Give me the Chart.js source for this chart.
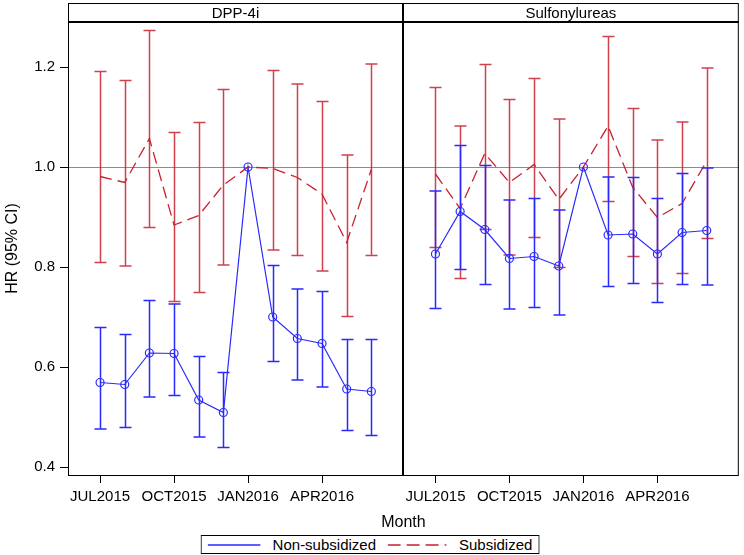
<!DOCTYPE html>
<html>
<head>
<meta charset="utf-8">
<script src="https://cdn.jsdelivr.net/npm/chart.js@4"></script>
<style>
html, body { margin: 0; padding: 0; background: #fff; }
#wrap { position: relative; width: 744px; height: 555px; }
#legend {
    position: absolute; left: 370px; top: 535px; height: 19px; transform: translateX(-50%);
    box-sizing: border-box; border: 1px solid #000; background: #fff;
    display: flex; align-items: center; padding: 0 6px; white-space: nowrap;
    font: 15px "Liberation Sans", Arial, sans-serif; color: #000;
}
#legend svg { display: block; margin-right: 12px; flex-shrink: 0; }
#legend span { margin-right: 12px; flex-shrink: 0; white-space: nowrap; }
#legend span:last-child { margin-right: 0; }
</style>
</head>
<body>
<div id="wrap">
    <canvas id="chart" width="744" height="555"></canvas>
    <div id="legend"></div>
</div>
<script>
// months on the x axis, one point per month
const months = ['JUL2015', 'AUG2015', 'SEP2015', 'OCT2015', 'NOV2015', 'DEC2015',
    'JAN2016', 'FEB2016', 'MAR2016', 'APR2016', 'MAY2016', 'JUN2016'];
const tickLabels = ['JUL2015', 'OCT2015', 'JAN2016', 'APR2016'];
const yTicks = [0.4, 0.6, 0.8, 1.0, 1.2];
const panels = ['DPP-4i', 'Sulfonylureas'];

// DPP-4i
const dppNonHR = [0.569, 0.565, 0.628, 0.627, 0.534, 0.509, 1.0, 0.700, 0.657, 0.647, 0.556, 0.551];
const dppNonLo = [0.476, 0.479, 0.540, 0.543, 0.460, 0.439, null, 0.611, 0.574, 0.560, 0.473, 0.463];
const dppNonHi = [0.679, 0.665, 0.733, 0.726, 0.621, 0.589, null, 0.803, 0.756, 0.751, 0.655, 0.655];
const dppSubHR = [0.981, 0.969, 1.057, 0.884, 0.903, 0.964, 1.0, 0.997, 0.979, 0.946, 0.849, 0.995];
const dppSubLo = [0.809, 0.802, 0.879, 0.731, 0.749, 0.804, null, 0.834, 0.823, 0.792, 0.701, 0.823];
const dppSubHi = [1.191, 1.173, 1.273, 1.069, 1.089, 1.155, null, 1.193, 1.166, 1.131, 1.024, 1.206];

// Sulfonylureas
const sulNonHR = [0.826, 0.911, 0.875, 0.817, 0.821, 0.802, 1.0, 0.864, 0.866, 0.826, 0.869, 0.873];
const sulNonLo = [0.717, 0.795, 0.765, 0.716, 0.719, 0.704, null, 0.761, 0.767, 0.729, 0.765, 0.764];
const sulNonHi = [0.952, 1.043, 1.003, 0.934, 0.937, 0.914, null, 0.980, 0.979, 0.937, 0.987, 0.998];
const sulSubHR = [0.986, 0.917, 1.027, 0.969, 1.005, 0.935, 1.0, 1.082, 0.959, 0.899, 0.927, 1.012];
const sulSubLo = [0.839, 0.777, 0.875, 0.824, 0.859, 0.799, null, 0.931, 0.821, 0.767, 0.787, 0.857];
const sulSubHi = [1.159, 1.082, 1.205, 1.135, 1.177, 1.096, null, 1.261, 1.117, 1.054, 1.090, 1.198];

const BLUE = '#2a2aff';
const RED = '#c8202f';
const FONT = '"Liberation Sans", Arial, sans-serif';

// both panels share one linear x axis, the second one shifted by `offset`
const offset = 13.6;
const divider = 12.3;
const tickPos = [0, 3, 6, 9].concat([0, 3, 6, 9].map(v => v + offset));

function pts(vals, off) {
    return vals.map((v, i) => ({ x: i + off, y: v }));
}

function nonSet(hr, lo, hi, off) {
    return {
        label: 'Non-subsidized', data: pts(hr, off), lo: lo, hi: hi,
        borderColor: BLUE, borderWidth: 1.2, tension: 0,
        pointRadius: 4, pointBorderColor: BLUE, pointBorderWidth: 1.2,
        pointBackgroundColor: 'rgba(0,0,0,0)', barColor: BLUE
    };
}
function subSet(hr, lo, hi, off) {
    return {
        label: 'Subsidized', data: pts(hr, off), lo: lo, hi: hi,
        borderColor: RED, borderWidth: 1.3, borderDash: [12, 6], tension: 0,
        pointRadius: 0, barColor: 'rgba(200,32,47,0.85)'
    };
}

// vertical CI bars with caps, drawn under each line
const errorBars = {
    id: 'errorBars',
    beforeDatasetDraw(chart, args) {
        const ds = chart.data.datasets[args.index];
        if (!ds.lo) return;
        const { ctx, scales: { x, y } } = chart;
        ctx.save();
        ctx.strokeStyle = ds.barColor;
        ctx.lineWidth = 1.5;
        ds.data.forEach((p, i) => {
            if (ds.lo[i] == null) return;
            const px = Math.round(x.getPixelForValue(p.x)) + 0.5;
            const yl = y.getPixelForValue(ds.lo[i]);
            const yh = y.getPixelForValue(ds.hi[i]);
            ctx.beginPath();
            ctx.moveTo(px, yl); ctx.lineTo(px, yh);
            ctx.moveTo(px - 6, yl); ctx.lineTo(px + 6, yl);
            ctx.moveTo(px - 6, yh); ctx.lineTo(px + 6, yh);
            ctx.stroke();
        });
        ctx.restore();
    }
};

// reference line at HR = 1
const refLine = {
    id: 'refLine',
    beforeDatasetsDraw(chart) {
        const { ctx, chartArea: a, scales: { y } } = chart;
        const py = Math.round(y.getPixelForValue(1)) + 0.5;
        ctx.save();
        ctx.strokeStyle = '#8c8c8c';
        ctx.lineWidth = 1.2;
        ctx.beginPath();
        ctx.moveTo(a.left, py); ctx.lineTo(a.right, py);
        ctx.stroke();
        ctx.restore();
    }
};

// panel frame, header cells and the divider
const panelFrame = {
    id: 'panelFrame',
    afterDraw(chart) {
        const { ctx, chartArea: a, scales: { x } } = chart;
        const mid = Math.round(x.getPixelForValue(divider));
        const top = 3;
        ctx.save();
        ctx.strokeStyle = '#000';
        ctx.lineWidth = 1;
        ctx.strokeRect(a.left + 0.5, top + 0.5, a.right - a.left - 1, a.bottom - top);
        ctx.lineWidth = 2;
        ctx.beginPath();
        ctx.moveTo(a.left, a.top); ctx.lineTo(a.right, a.top);
        ctx.moveTo(mid, top); ctx.lineTo(mid, a.bottom);
        ctx.stroke();
        ctx.fillStyle = '#000';
        ctx.font = '15px ' + FONT;
        ctx.textAlign = 'center';
        ctx.textBaseline = 'middle';
        ctx.fillText(panels[0], (a.left + mid) / 2, (top + a.top) / 2 + 1);
        ctx.fillText(panels[1], (mid + a.right) / 2, (top + a.top) / 2 + 1);
        ctx.restore();
    }
};

const canvas = document.getElementById('chart');
const chart = new Chart(canvas.getContext('2d'), {
    type: 'line',
    data: {
        datasets: [
            nonSet(dppNonHR, dppNonLo, dppNonHi, 0),
            nonSet(sulNonHR, sulNonLo, sulNonHi, offset),
            subSet(dppSubHR, dppSubLo, dppSubHi, 0),
            subSet(sulSubHR, sulSubLo, sulSubHi, offset)
        ]
    },
    options: {
        responsive: false,
        animation: false,
        devicePixelRatio: 1,
        layout: { padding: { top: 22, right: 4, bottom: 20, left: 0 } },
        plugins: { legend: { display: false }, tooltip: { enabled: false } },
        scales: {
            x: {
                type: 'linear', min: -1.3, max: 25.9,
                afterBuildTicks: s => { s.ticks = tickPos.map(v => ({ value: v })); },
                afterFit: s => { s.height = 60; },
                ticks: {
                    callback: (v, i) => tickLabels[i % tickLabels.length],
                    autoSkip: false, maxRotation: 0, padding: 5,
                    color: '#000', font: { family: FONT, size: 15 }
                },
                grid: { display: true, drawOnChartArea: false, tickLength: 8, color: '#000' },
                border: { display: false },
                title: {
                    display: true, text: 'Month', color: '#000',
                    font: { family: FONT, size: 16 }, padding: { top: 2, bottom: 3 }
                }
            },
            y: {
                type: 'linear', min: 0.384, max: 1.29,
                afterBuildTicks: s => { s.ticks = yTicks.map(v => ({ value: v })); },
                afterFit: s => { s.width = 68; },
                ticks: {
                    callback: v => v.toFixed(1), padding: 5,
                    color: '#000', font: { family: FONT, size: 15 }
                },
                grid: { display: true, drawOnChartArea: false, tickLength: 8, color: '#000' },
                border: { display: false },
                title: {
                    display: true, text: 'HR (95% CI)', color: '#000',
                    font: { family: FONT, size: 16 }, padding: { top: 3, bottom: 0 }
                }
            }
        }
    },
    plugins: [refLine, errorBars, panelFrame]
});

// html legend built from the first two distinct series
const legend = document.getElementById('legend');
[chart.data.datasets[0], chart.data.datasets[2]].forEach(ds => {
    const w = ds.borderDash ? 59 : 53;
    const dash = ds.borderDash ? ' stroke-dasharray="13 6"' : '';
    legend.insertAdjacentHTML('beforeend',
        '<svg width="' + w + '" height="4"><line x1="0" y1="2" x2="' + w + '" y2="2" stroke="' +
        ds.borderColor + '" stroke-width="1.3"' + dash + '/></svg><span>' + ds.label + '</span>');
});
</script>
</body>
</html>
